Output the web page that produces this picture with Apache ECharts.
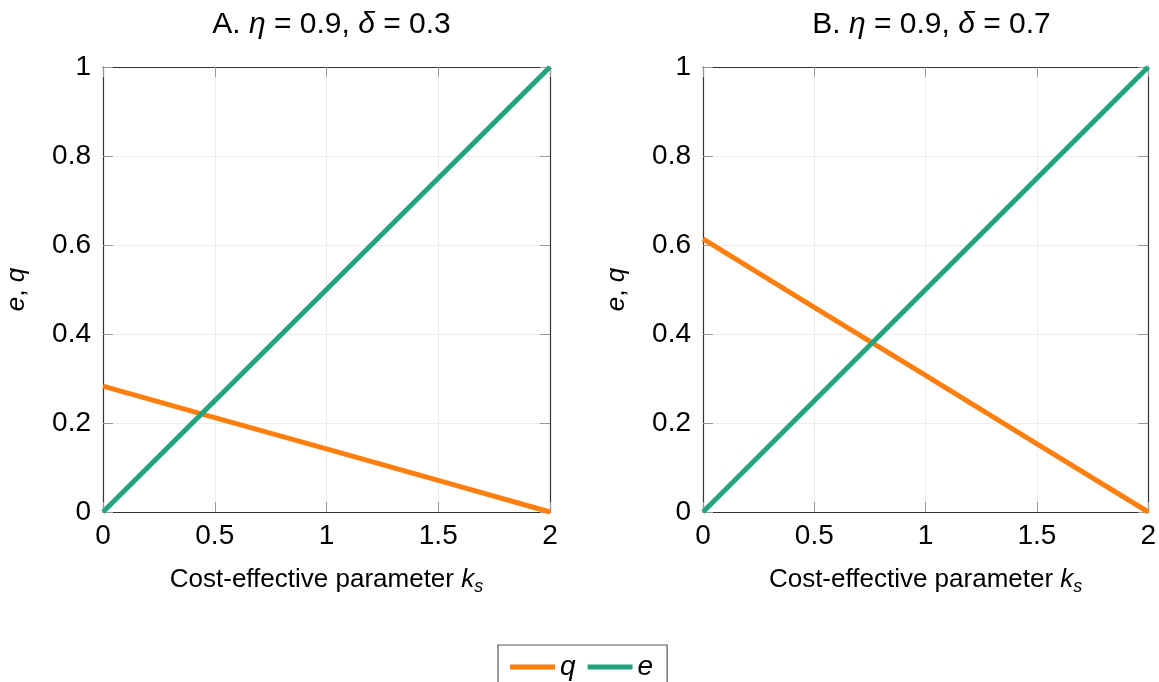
<!DOCTYPE html>
<html><head><meta charset="utf-8">
<script src="https://cdn.jsdelivr.net/npm/echarts@6/dist/echarts.min.js"></script>
<style>html,body{margin:0;padding:0;background:#fff}#c{width:1159px;height:682px}</style>
</head><body><div id="c"></div>
<script>
const xValues = [0, 0.5, 1, 1.5, 2];
const qA = [0.283, 0.212, 0.142, 0.071, 0];
const eA = [0, 0.25, 0.5, 0.75, 1];
const qB = [0.614, 0.46, 0.307, 0.153, 0];
const eB = [0, 0.25, 0.5, 0.75, 1];
const panelTitles = ['A. {i|η} = 0.9, {i|δ} = 0.3', 'B. {i|η} = 0.9, {i|δ} = 0.7'];
const xName = 'Cost-effective parameter {i|k}{s|s}';
const yName = '{i|e}, {i|q}';
const colors = {q: '#ff7f0e', e: '#23a47f'};

const FONT = '"Liberation Sans", "DejaVu Sans", sans-serif';
const tickFS = 28;
const grids = [
  {left: 103, top: 67, width: 447, height: 445},
  {left: 703, top: 67, width: 447, height: 445}
];
const xAxes = [], yAxes = [], series = [], titles = [];
grids.forEach((g, i) => {
  xAxes.push({
    type: 'value', gridIndex: i, min: 0, max: 2, interval: 0.5,
    name: xName, nameLocation: 'middle', nameGap: 52,
    nameTextStyle: {fontFamily: FONT, fontSize: 26, color: '#000',
      rich: {i: {fontStyle: 'italic', fontFamily: FONT, fontSize: 26, color: '#000'},
             s: {fontStyle: 'italic', fontFamily: FONT, fontSize: 18, color: '#000', padding: [14, 0, 0, 0]}}},
    axisLine: {show: true, onZero: false, lineStyle: {color: '#333', width: 1.2}},
    axisTick: {show: true, inside: true, length: 10, lineStyle: {color: '#999'}},
    axisLabel: {fontFamily: FONT, fontSize: tickFS, color: '#000', margin: 10},
    splitLine: {show: true, lineStyle: {color: '#ececec', width: 1}}
  });
  xAxes.push({
    type: 'value', gridIndex: i, min: 0, max: 2, interval: 0.5, position: 'top',
    axisLine: {show: true, onZero: false, lineStyle: {color: '#333', width: 1.2}},
    axisTick: {show: true, inside: true, length: 10, lineStyle: {color: '#999'}},
    axisLabel: {show: false}, splitLine: {show: false}
  });
  yAxes.push({
    type: 'value', gridIndex: i, min: 0, max: 1, interval: 0.2,
    name: yName, nameLocation: 'middle', nameGap: 73,
    nameTextStyle: {fontFamily: FONT, fontSize: 26, color: '#000',
      rich: {i: {fontStyle: 'italic', fontFamily: FONT, fontSize: 26, color: '#000'}}},
    axisLine: {show: true, onZero: false, lineStyle: {color: '#333', width: 1.2}},
    axisTick: {show: true, inside: true, length: 10, lineStyle: {color: '#999'}},
    axisLabel: {fontFamily: FONT, fontSize: tickFS, color: '#000', margin: 12},
    splitLine: {show: true, lineStyle: {color: '#ececec', width: 1}}
  });
  yAxes.push({
    type: 'value', gridIndex: i, min: 0, max: 1, interval: 0.2, position: 'right',
    axisLine: {show: true, onZero: false, lineStyle: {color: '#333', width: 1.2}},
    axisTick: {show: true, inside: true, length: 10, lineStyle: {color: '#999'}},
    axisLabel: {show: false}, splitLine: {show: false}
  });
  titles.push({
    text: panelTitles[i], left: g.left + g.width / 2, top: 5, textAlign: 'center',
    textStyle: {fontFamily: FONT, fontSize: 30, fontWeight: 'normal', color: '#000',
      rich: {i: {fontStyle: 'italic', fontFamily: FONT, fontSize: 30, color: '#000'}}}
  });
});
const qs = [qA, qB], es = [eA, eB];
[0, 1].forEach(i => {
  series.push({
    name: 'q', type: 'line', xAxisIndex: 2 * i, yAxisIndex: 2 * i,
    data: xValues.map((x, k) => [x, qs[i][k]]),
    showSymbol: false, color: colors.q, lineStyle: {width: 5, color: colors.q}
  });
  series.push({
    name: 'e', type: 'line', xAxisIndex: 2 * i, yAxisIndex: 2 * i,
    data: xValues.map((x, k) => [x, es[i][k]]),
    showSymbol: false, color: colors.e, lineStyle: {width: 5, color: colors.e}
  });
});
const chart = echarts.init(document.getElementById('c'), null, {renderer: 'canvas'});
chart.setOption({
  animation: false,
  title: titles,
  grid: grids,
  xAxis: xAxes,
  yAxis: yAxes,
  legend: {
    data: ['q', 'e'], left: 498, top: 645, orient: 'horizontal',
    icon: 'rect', itemWidth: 45, itemHeight: 5, itemGap: 12,
    padding: [8, 14, 30, 12], borderColor: '#555', borderWidth: 1.2,
    textStyle: {fontFamily: FONT, fontSize: 28, fontStyle: 'italic', color: '#000'}
  },
  series: series
});
</script></body></html>
